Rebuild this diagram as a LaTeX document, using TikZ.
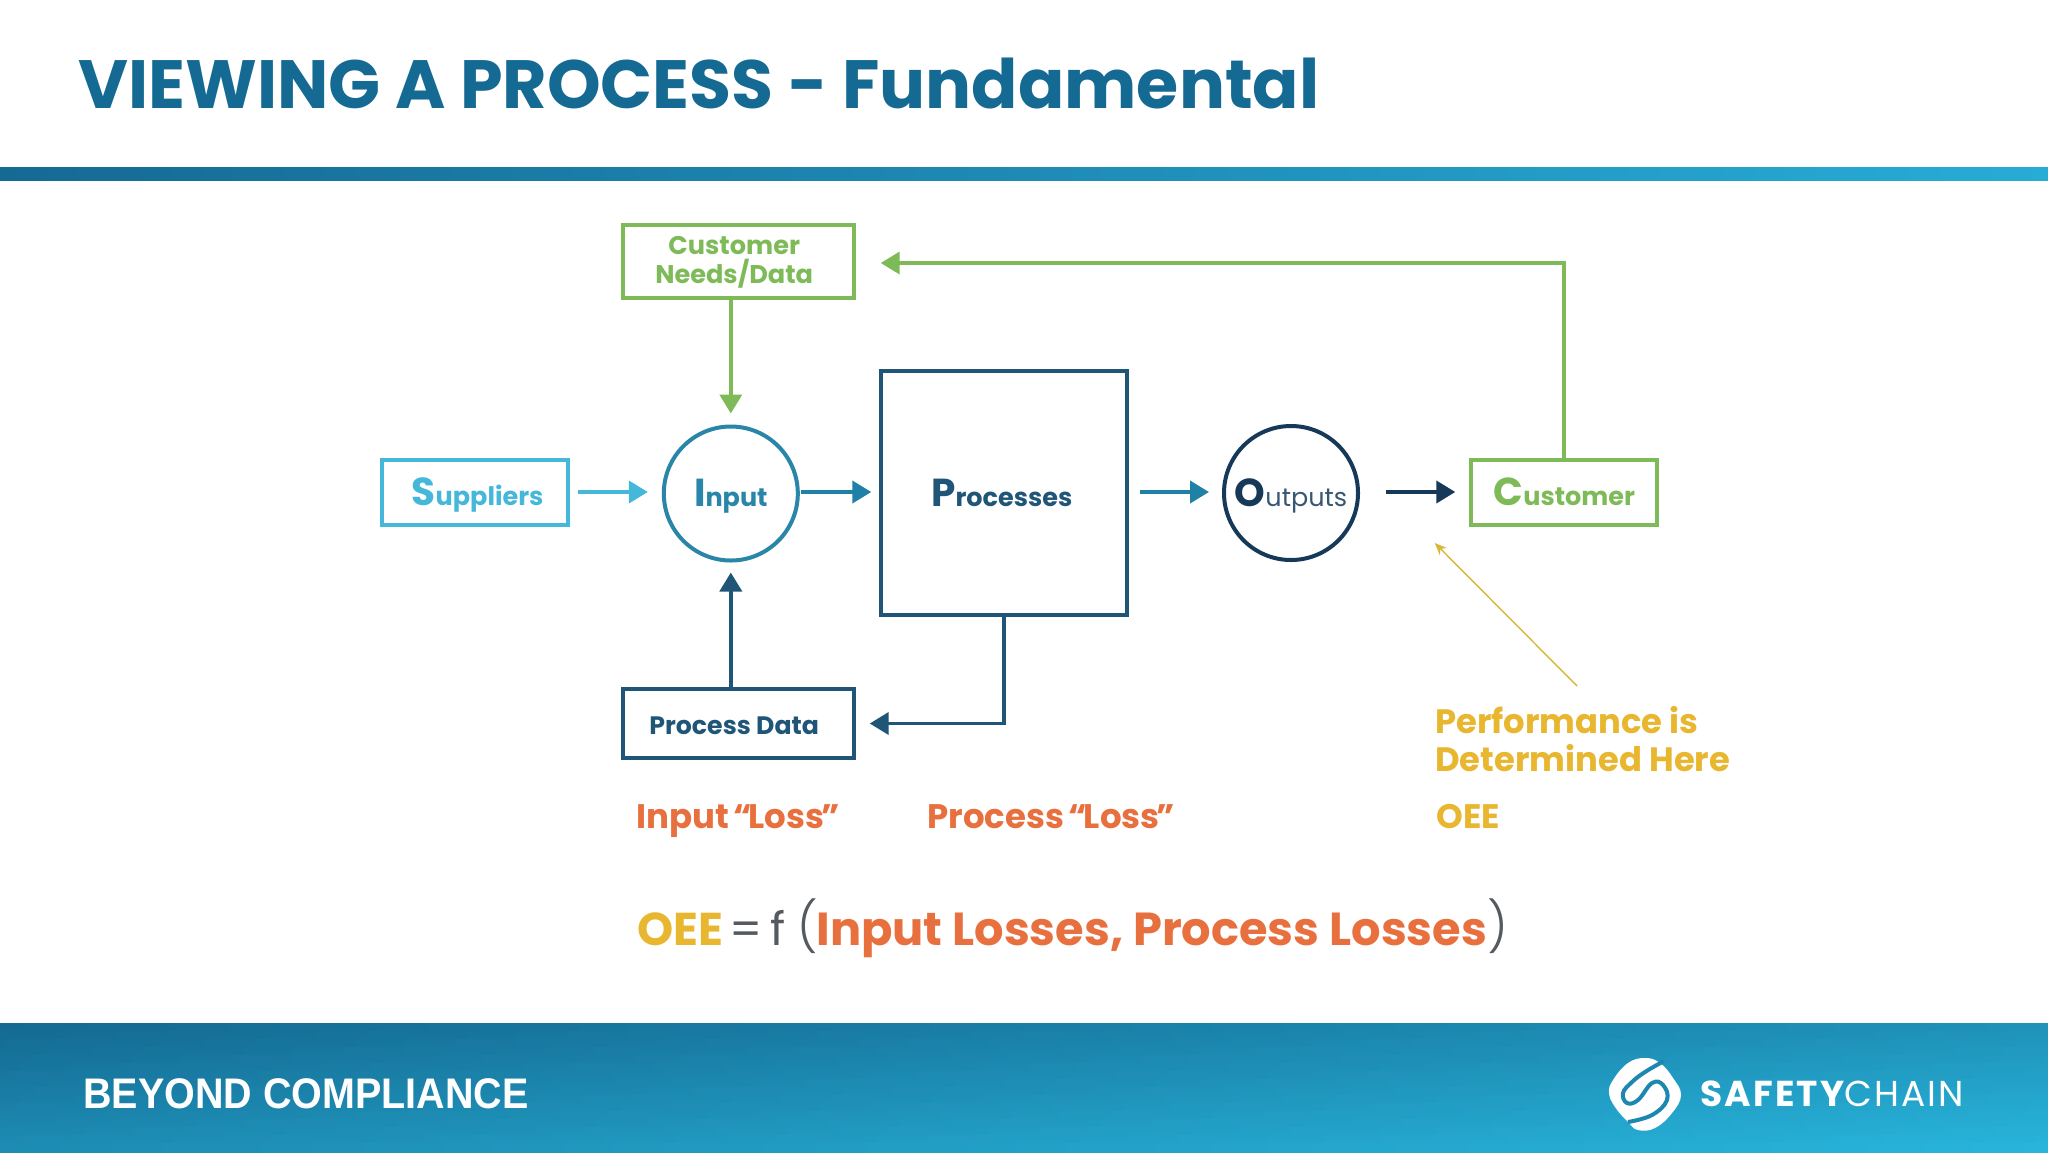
\documentclass[tikz,border=0pt]{standalone}
\usepackage{fontspec}
\setmainfont{Poppins}
\newfontfamily\pop{Poppins}
\newfontfamily\popthin{Poppins Light}
\newfontfamily\brandfont[LetterSpace=6]{Poppins}
\newfontfamily\foot[FakeStretch=0.922]{Liberation Sans}
\usetikzlibrary{arrows.meta,calc}
\definecolor{titleblue}{HTML}{156A94}
\definecolor{bardark}{HTML}{156A94}
\definecolor{barlight}{HTML}{27ACD6}
\definecolor{footdark}{HTML}{146A92}
\definecolor{footlight}{HTML}{28B4DB}
\definecolor{sky}{HTML}{45B8DA}
\definecolor{teal}{HTML}{2A86A8}
\definecolor{midblue}{HTML}{1F81A6}
\definecolor{deep}{HTML}{1F5577}
\definecolor{navy}{HTML}{16395A}
\definecolor{leaf}{HTML}{7EBB58}
\definecolor{amber}{HTML}{E8B72F}
\definecolor{coral}{HTML}{E8703F}
\definecolor{slategrey}{HTML}{555A60}
\tikzset{
  x=0.5pt,y=-0.5pt,
  boxnode/.style={draw,line width=2pt,rectangle,inner sep=0pt,font=\pop\bfseries,align=center},
  roundnode/.style={draw,line width=2pt,circle,inner sep=0pt,minimum size=67pt,font=\pop\bfseries,text height=13pt,text depth=0pt},
  flow/.style={line width=1.9pt,-{Triangle[length=9.5pt,width=11pt]}},
  lbl/.style={anchor=base west,inner sep=0pt,font=\pop\bfseries},
}
\newcommand{\biglet}[1]{{\fontsize{19.5}{20}\selectfont #1}}
\begin{document}
\begin{tikzpicture}
\useasboundingbox (0,0) rectangle (2048,1152);
\fill[white] (0,0) rectangle (2048,1152);
% bars
\fill[left color=bardark,right color=barlight] (0,167) rectangle (2048,180);
\foreach \k in {0,...,15}{
  \pgfmathsetmacro\ta{45*\k/15}
  \pgfmathsetmacro\tb{55+45*\k/15}
  \pgfmathsetmacro\ytop{1023+8.0625*\k}
  \pgfmathsetmacro\ybot{\ytop+9}
  \colorlet{stripa}{footlight!\ta!footdark}
  \colorlet{stripb}{footlight!\tb!footdark}
  \fill[left color=stripa,right color=stripb] (0,\ytop) rectangle (2048,\ybot);
}
% title
\node[lbl,text=titleblue,font=\pop\bfseries\fontsize{34.15}{34}\selectfont] (title) at (78,108.5) {VIEWING A PROCESS - Fundamental};
% footer
\node[lbl,text=white,font=\foot\bfseries\fontsize{21.4}{22}\selectfont] (beyond) at (83,1108) {BEYOND COMPLIANCE};
% logo
\begin{scope}[shift={(1645,1094)}]
\fill[white] plot[smooth cycle,tension=0.7] coordinates {(15,-31)(0,-36)(-17,-31)(-32,-14)(-36,-1)(-30,13)(-17,28)(-7,36)(10,34)(27,19)(36,1)(28,-16)};
\draw[footdark!60!footlight,line width=2pt] plot[smooth,tension=0.7] coordinates {(19,-33)(0,-22)(-13,-12)(-22,-1)(-18,9)(-7,6)(7,-11)(18,-9)(22,6)(7,21)(-17,28)};
\end{scope}
\node[lbl,text=white,font=\brandfont\fontsize{18}{18}\selectfont] (brand) at (1700,1106) {{\bfseries SAFETY}CHAIN};
% diagram nodes
\node[boxnode,draw=leaf,text=leaf,minimum width=115.5pt,minimum height=36.5pt,font=\pop\bfseries\fontsize{12.8}{14.5}\selectfont] (needs) at (738.2,261) {\raisebox{-1pt}[\height][\depth]{\begin{tabular}{@{}c@{}}Customer\hspace*{4pt}\\[-1.8pt]Needs/Data\hspace*{4pt}\end{tabular}}};
\node[boxnode,draw=sky,text=sky,minimum width=92.7pt,minimum height=32.5pt,text height=13.5pt,text depth=0pt,font=\pop\bfseries\fontsize{12.75}{14}\selectfont] (suppliers) at (475,492.2) {\hspace*{2.6pt}\biglet{S}uppliers};
\node[roundnode,draw=teal,text=teal,font=\pop\bfseries\fontsize{12.75}{14}\selectfont] (input) at (730.8,493.5) {\biglet{I}nput};
\node[boxnode,draw=deep,text=deep,minimum width=123pt,minimum height=122pt,text height=13pt,text depth=0pt,font=\pop\bfseries\fontsize{12.75}{14}\selectfont] (processes) at (1004.3,493) {\biglet{P}rocesses\hspace*{2.6pt}};
\node[roundnode,draw=navy,text=navy!85!white,font=\pop\fontsize{12.75}{14}\selectfont] (outputs) at (1291,493) {{\bfseries\color{navy}\biglet{O}}utputs};
\node[boxnode,draw=leaf,text=leaf,minimum width=93pt,minimum height=32.5pt,text height=13.5pt,text depth=0pt,font=\pop\bfseries\fontsize{12.75}{14}\selectfont] (customer) at (1564.3,492) {\biglet{C}ustomer};
\node[boxnode,draw=deep,text=deep,minimum width=115.5pt,minimum height=34.3pt,text height=10.5pt,text depth=0pt,font=\pop\bfseries\fontsize{12.6}{14}\selectfont] (pdata) at (738.2,723.5) {Process Data\hspace*{4pt}};
% labels
\node[lbl,text=coral,font=\pop\bfseries\fontsize{17}{18}\selectfont] (il) at (636,828) {Input\kern-1.5pt\ “\kern-1.5pt Loss\kern-1.5pt”};
\node[lbl,text=coral,font=\pop\bfseries\fontsize{17}{18}\selectfont] (pl) at (927,828) {Process\kern-1.5pt\ “\kern-1.5pt Loss\kern-1.5pt”};
\node[lbl,text=amber,font=\pop\bfseries\fontsize{17}{18}\selectfont] (oee) at (1436,828) {OEE};
\node[anchor=west,inner sep=0pt,align=left,text=amber,font=\pop\bfseries\fontsize{16.9}{19}\selectfont] (perf) at (1435,739) {Performance is\\Determined Here};
% equation
\node[lbl,text=amber,font=\pop\bfseries\fontsize{23}{24}\selectfont] (eqa) at (637,945) {OEE};
\node[lbl,text=slategrey,font=\pop\fontsize{23}{24}\selectfont] (eqb) at (729,945) {=};
\node[lbl,text=slategrey,font=\pop\fontsize{23}{24}\selectfont] (eqc) at (770,945) {f};
\node[lbl,text=slategrey,font=\popthin\fontsize{24.5}{25}\selectfont] (eqd) at (797,944) {(};
\node[lbl,text=coral,font=\pop\bfseries\fontsize{23.15}{24}\selectfont] (eqe) at (816,945) {Input Losses, Process Losses};
\node[lbl,text=slategrey,font=\popthin\fontsize{24.5}{25}\selectfont] (eqf) at (1487,944) {)};
% connectors
\coordinate (row) at (0,492);
\coordinate (needsfoot) at (needs.south -| input.north);
\coordinate (pdatatop) at (pdata.north -| input.south);
\coordinate (cornerA) at (customer.north |- 0,263);
\coordinate (tipA) at ($(needs.east |- cornerA)+(25,0)$);
\coordinate (cornerB) at (processes.south |- pdata.east);
\draw[flow,draw=leaf,fill=leaf] (needsfoot) -- ([yshift=5.5pt]input.north);
\draw[flow,draw=deep,fill=deep] (pdatatop) -- ([yshift=-5pt]input.south);
\draw[flow,draw=sky] ([xshift=4pt]suppliers.east |- row) -- ([xshift=-7pt]input.west |- row);
\draw[flow,draw=midblue] ([xshift=.5pt]input.east |- row) -- ([xshift=-4pt]processes.west |- row);
\draw[flow,draw=midblue] ([xshift=5.5pt]processes.east |- row) -- ([xshift=-6.5pt]outputs.west |- row);
\draw[flow,draw=navy] ([xshift=13pt]outputs.east |- row) -- ([xshift=-7pt]customer.west |- row);
\draw[flow,draw=leaf] (customer.north) -- (cornerA) -- (tipA);
\draw[flow,draw=deep] (processes.south) -- (cornerB) -- ([xshift=7pt]pdata.east);
\coordinate (perfstart) at (1577,686);
\draw[draw=amber!85!leaf,line width=0.7pt,-{Stealth[length=6pt,width=5pt]}] (perfstart) -- ($(customer.west)+(-34.5,51)$);
\end{tikzpicture}
\end{document}
